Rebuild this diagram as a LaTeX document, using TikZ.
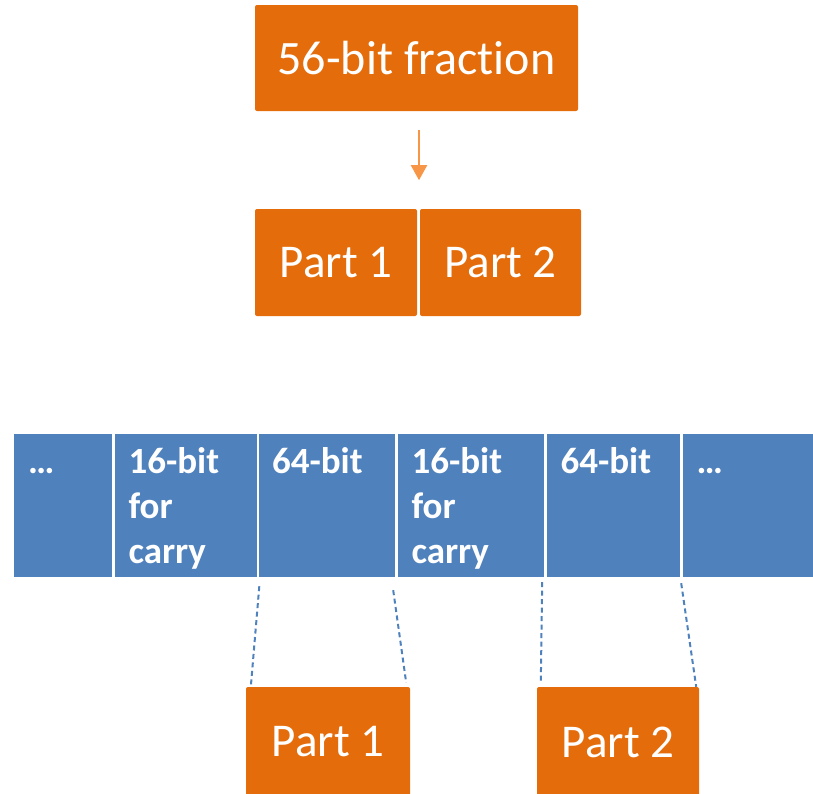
\documentclass[tikz,border=0pt]{standalone}
\usepackage{fontspec}
\setmainfont{Carlito}[RawFeature=-liga]
\usetikzlibrary{arrows.meta,calc}
\definecolor{boxorange}{RGB}{228,108,10}
\definecolor{arroworange}{RGB}{247,150,70}
\definecolor{cellblue}{RGB}{79,129,189}
\begin{document}
\begin{tikzpicture}[x=1pt,y=-1pt,
  obox/.style={fill=boxorange, rounded corners=2pt, inner sep=0pt, text=white,
               font=\fontsize{47}{56}\selectfont},
  cell/.style={fill=cellblue, inner sep=0pt, minimum height=143pt},
  celltext/.style={text=white, font=\bfseries\fontsize{37}{45}\selectfont,
                   align=left, inner sep=0pt, anchor=base west},
  dashline/.style={draw=cellblue, line width=2pt, dash pattern=on 5pt off 3.5pt},
  flow/.style={draw=arroworange, line width=2pt, -{Triangle[length=15pt,width=16pt]}}
]
\useasboundingbox (0,0) rectangle (813,793);
\clip (0,0) rectangle (813,793);

% the fraction and its two halves
\node[obox, minimum width=323pt, minimum height=106pt, font=\fontsize{48}{56}\selectfont]
  (frac) at (416.5,58) {56-bit fraction};
\node[obox, minimum width=162pt, minimum height=107pt] (p1) at (336,262.5) {Part 1};
\node[obox, minimum width=161pt, minimum height=107pt] (p2) at (500.5,262.5) {Part 2};
\draw[flow] ($(frac.south)+(2.5,19)$) -- ($(frac.south)+(2.5,69)$);

% memory layout strip
\node[cell, minimum width=98pt]  (c1) at (63,505.5) {};
\node[cell, minimum width=142pt] (c2) at (185.5,505.5) {};
\node[cell, minimum width=136pt] (c3) at (327,505.5) {};
\node[cell, minimum width=146.5pt] (c4) at (470.75,505.5) {};
\node[cell, minimum width=133.5pt] (c5) at (613.25,505.5) {};
\node[cell, minimum width=140pt] (c6) at (752.5,505.5) {};

% labels: the base anchor sits on the last line, so three-line labels go 90pt lower
\node[celltext] (t1) at ($(c1.north west)+(14,40)$) {…};
\node[celltext] (t2) at ($(c2.north west)+(14,130)$) {16-bit\\for\\carry};
\node[celltext] (t3) at ($(c3.north west)+(13,40)$) {64-bit};
\node[celltext] (t4) at ($(c4.north west)+(14,130)$) {16-bit\\for\\carry};
\node[celltext] (t5) at ($(c5.north west)+(14,40)$) {64-bit};
\node[celltext] (t6) at ($(c6.north west)+(14,40)$) {…};

% placed halves
\node[obox, minimum width=164pt, minimum height=110pt] (b1) at (328,742) {Part 1};
\node[obox, minimum width=162pt, minimum height=110pt] (b2) at (618,742) {Part 2};

\draw[dashline] ($(c3.south west)+(0.5,9)$) -- ($(b1.north west)+(5,0)$);
\draw[dashline] ($(c3.south east)+(-2,13)$) -- ($(b1.north east)+(-4,-4)$);
\draw[dashline] ($(c4.south east)+(-2,5)$) -- ($(b2.north west)+(4,-4)$);
\draw[dashline] ($(c5.south east)+(1,6)$) -- ($(b2.north east)+(-3,0)$);
\end{tikzpicture}
\end{document}
